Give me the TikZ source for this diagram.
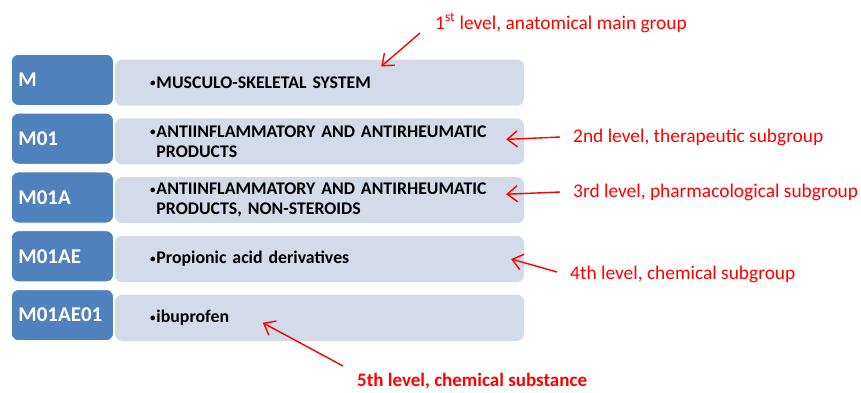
\documentclass[tikz,border=0pt]{standalone}
\usepackage{fontspec}
\setmainfont{Carlito}
\usepackage{xcolor}
\usepackage{tikz}
\usetikzlibrary{arrows.meta,positioning}
\definecolor{codeblue}{HTML}{4F81BD}
\definecolor{descgrey}{HTML}{D3DAE8}
\definecolor{notered}{HTML}{FF0000}
\newcommand{\bulletitem}[1]{\raisebox{1.6pt}{\scalebox{0.62}{\textbullet}}\kern1pt\parbox[t]{330pt}{\raggedright #1}}

\begin{document}
\begin{tikzpicture}[
        x=1pt, y=-1pt,
        codebox/.style={
          draw=white,
          line width=0.8pt,
          fill=codeblue,
          rounded corners=7pt,
          minimum width=102pt,
          minimum height=51pt,
          text width=88pt,
          inner xsep=7pt,
          align=left,
          text=white,
          font=\fontsize{21}{24}\selectfont\bfseries
        },
        descbox/.style={
          fill=descgrey,
          rounded corners=7pt,
          minimum width=409pt,
          minimum height=46pt,
          text width=339pt,
          inner xsep=35pt,
          align=left,
          font=\fontsize{17.8}{20}\selectfont\bfseries
        },
        note/.style={text=notered, inner sep=0pt, anchor=west, font=\fontsize{19.4}{22}\selectfont},
        arrow/.style={-{Straight Barb[length=10pt,width=16pt]}, line width=1.4pt, draw=notered}
      ]
        \useasboundingbox (0,0) rectangle (861,392);

        \node[codebox, anchor=north west] (m) at (11,54) {M};
        \node[codebox, below=7pt of m] (m01) {M01};
        \node[codebox, below=7pt of m01] (m01a) {M01A};
        \node[codebox, below=7pt of m01a] (m01ae) {M01AE};
        \node[codebox, below=7pt of m01ae] (m01ae01) {M01AE01};

        \node[descbox, above right=0pt and 1pt of m.south east] (anat) {\bulletitem{MUSCULO-SKELETAL SYSTEM}};
        \node[descbox, above right=0pt and 1pt of m01.south east] (ther) {\bulletitem{ANTIINFLAMMATORY AND ANTIRHEUMATIC\\PRODUCTS}};
        \node[descbox, above right=0pt and 1pt of m01a.south east] (pharm) {\bulletitem{ANTIINFLAMMATORY AND ANTIRHEUMATIC\\PRODUCTS, NON-STEROIDS}};
        \node[descbox, above right=0pt and 1pt of m01ae.south east] (chem) {\bulletitem{Propionic acid derivatives}};
        \node[descbox, above right=0pt and 1pt of m01ae01.south east] (subst) {\bulletitem{ibuprofen}};

        \node[note] (anatnote) at (435,23) {1\textsuperscript{st} level, anatomical main group};
        \node[note] (thernote) at (573,137) {2nd level, therapeutic subgroup};
        \node[note] (pharmnote) at (573,192) {3rd level, pharmacological subgroup};
        \node[note] (chemnote) at (570,274) {4th level, chemical subgroup};
        \node[note, font=\fontsize{19}{22}\selectfont\bfseries] (substnote) at (357,381) {5th level, chemical substance};

        \draw[arrow] ([shift={(-15pt,-10pt)}]anatnote.west) -- ([shift={(-143pt,-7pt)}]anat.north east);
        \draw[arrow] ([xshift=-13pt]thernote.west) -- ([shift={(-18pt,2pt)}]ther.east);
        \draw[arrow] ([xshift=-13pt]pharmnote.west) -- ([shift={(-18pt,6pt)}]pharm.east);
        \draw[arrow] ([shift={(-13pt,2pt)}]chemnote.west) -- ([xshift=-13pt]chem.east);
        \draw[arrow] ([shift={(-14pt,15pt)}]substnote.west) -- ([shift={(148pt,-5pt)}]subst.west);
      \end{tikzpicture}
\end{document}
